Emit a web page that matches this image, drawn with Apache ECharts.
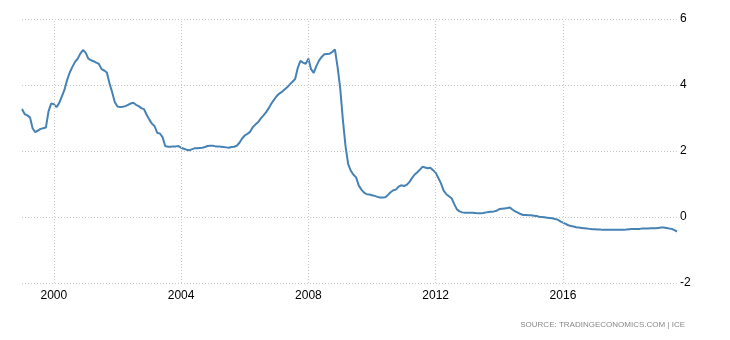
<!DOCTYPE html>
<html lang="en">

<head>
    <meta charset="UTF-8">
    <title>Chart</title>
    <style>
        html, body { margin: 0; padding: 0; background: #fff; }
        .box { width: 730px; height: 340px; }
    </style>
    <script src="https://cdn.jsdelivr.net/npm/echarts@6/dist/echarts.min.js"></script>
</head>

<body>
    <div class="box" id="main"></div>
    <script>
        // monthly values, Jan 1999 .. Aug 2019
        const startYear = 1999;
        const values = [
            3.27, 3.12, 3.08, 3.02, 2.69, 2.57, 2.62, 2.67, 2.69, 2.71, 3.20, 3.44, // 1999
            3.42, 3.33, 3.45, 3.65, 3.85, 4.15, 4.38, 4.55, 4.70, 4.80, 4.95, 5.06, // 2000
            4.98, 4.80, 4.75, 4.72, 4.68, 4.64, 4.48, 4.44, 4.38, 4.05, 3.78, 3.48, // 2001
            3.35, 3.33, 3.34, 3.36, 3.40, 3.44, 3.46, 3.40, 3.36, 3.30, 3.27, 3.10, // 2002
            2.95, 2.83, 2.75, 2.55, 2.53, 2.42, 2.15, 2.13, 2.13, 2.14, 2.14, 2.15, // 2003
            2.10, 2.07, 2.04, 2.02, 2.05, 2.08, 2.08, 2.09, 2.10, 2.12, 2.15, 2.16, // 2004
            2.16, 2.14, 2.14, 2.13, 2.12, 2.11, 2.10, 2.12, 2.13, 2.16, 2.25, 2.38, // 2005
            2.47, 2.52, 2.58, 2.72, 2.80, 2.87, 2.98, 3.07, 3.17, 3.29, 3.43, 3.55, // 2006
            3.66, 3.74, 3.79, 3.86, 3.93, 4.02, 4.10, 4.18, 4.52, 4.73, 4.68, 4.64, // 2007
            4.80, 4.48, 4.37, 4.57, 4.74, 4.85, 4.93, 4.94, 4.95, 5.00, 5.08, 4.55, // 2008
            3.90, 2.95, 2.15, 1.60, 1.40, 1.28, 1.20, 0.95, 0.83, 0.74, 0.69, 0.68, // 2009
            0.66, 0.64, 0.61, 0.59, 0.59, 0.60, 0.67, 0.75, 0.81, 0.83, 0.92, 0.96, // 2010
            0.94, 0.97, 1.05, 1.17, 1.28, 1.35, 1.43, 1.52, 1.50, 1.48, 1.49, 1.42, // 2011
            1.34, 1.18, 1.02, 0.80, 0.69, 0.63, 0.57, 0.39, 0.23, 0.17, 0.14, 0.13, // 2012
            0.13, 0.13, 0.13, 0.12, 0.11, 0.11, 0.12, 0.14, 0.15, 0.16, 0.17, 0.19, // 2013
            0.24, 0.25, 0.26, 0.27, 0.29, 0.22, 0.17, 0.13, 0.09, 0.06, 0.06, 0.05, // 2014
            0.05, 0.04, 0.03, 0.01, 0.00, -0.01, -0.02, -0.03, -0.04, -0.06, -0.08, -0.13, // 2015
            -0.17, -0.21, -0.25, -0.27, -0.29, -0.31, -0.32, -0.33, -0.34, -0.35, -0.36, -0.37, // 2016
            -0.37, -0.38, -0.38, -0.39, -0.39, -0.39, -0.39, -0.39, -0.39, -0.39, -0.39, -0.39, // 2017
            -0.38, -0.37, -0.36, -0.36, -0.36, -0.36, -0.35, -0.35, -0.35, -0.34, -0.34, -0.34, // 2018
            -0.33, -0.32, -0.32, -0.33, -0.35, -0.36, -0.40, -0.44 // 2019
        ];
        const xTicks = [2000, 2004, 2008, 2012, 2016];
        const yTicks = { min: -2, max: 6, step: 2 };

        const points = values.map((v, i) => [startYear + i / 12, v]);
        const lastX = points[points.length - 1][0];

        const chart = echarts.init(document.getElementById('main'), null, { renderer: 'canvas' });

        const font = 'Liberation Sans, Arial, sans-serif';
        const gridLine = { color: '#c8c8c8', type: [1, 2], width: 1 };

        const option = {
            animation: false,
            grid: { left: 22, right: 53, top: 19, bottom: 57, containLabel: false },
            xAxis: {
                type: 'value',
                min: startYear,
                max: lastX,
                axisLine: { show: false },
                axisTick: { show: false },
                splitLine: { show: false },
                axisLabel: {
                    customValues: xTicks,
                    color: '#000',
                    fontFamily: font,
                    fontSize: 12,
                    margin: 7,
                    formatter: v => String(v)
                }
            },
            yAxis: {
                type: 'value',
                position: 'right',
                min: yTicks.min,
                max: yTicks.max,
                interval: yTicks.step,
                axisLine: { show: false },
                axisTick: { show: false },
                splitLine: { show: true, lineStyle: gridLine },
                axisLabel: {
                    color: '#000',
                    fontFamily: font,
                    fontSize: 12,
                    margin: 3,
                    padding: [2, 0, 0, 0]
                }
            },
            series: [{
                type: 'line',
                data: points,
                showSymbol: false,
                lineStyle: { color: '#4682b4', width: 2 },
                itemStyle: { color: '#4682b4' },
                markLine: {
                    silent: true,
                    symbol: 'none',
                    label: { show: false },
                    lineStyle: gridLine,
                    data: xTicks.map(t => ({ xAxis: t }))
                },
                z: 3
            }],
            graphic: [{
                type: 'text',
                right: 45,
                top: 321,
                style: {
                    text: 'SOURCE: TRADINGECONOMICS.COM | ICE',
                    fill: '#888',
                    font: '8px ' + font
                }
            }]
        };

        chart.setOption(option);
    </script>
</body>

</html>
